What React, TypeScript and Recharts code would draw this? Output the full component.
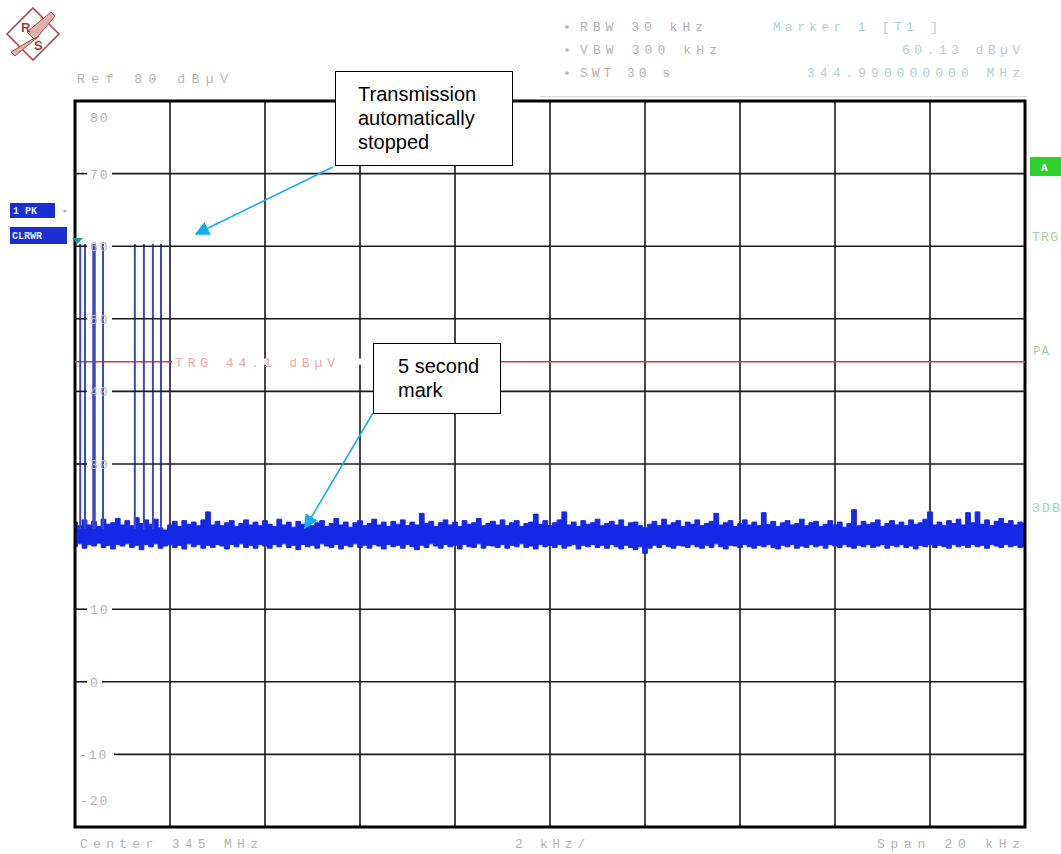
import {
  Area,
  CartesianGrid,
  ComposedChart,
  ReferenceArea,
  ReferenceLine,
  XAxis,
  YAxis,
} from "recharts";

// sweep: 201 samples, -10 kHz .. +10 kHz around 345 MHz
const FREQ_START = -10;
const FREQ_STEP = 0.1;

// noise floor read as peak (top) / min (bottom) envelope per sample, dBµV
const NOISE_HI = [
  22.0, 21.5, 22.3, 21.6, 22.1, 21.4, 22.4, 21.7, 21.9, 22.5,
  21.6, 22.2, 21.5, 22.6, 21.8, 22.3, 21.7, 22.4, 21.2, 20.9,
  21.6, 22.1, 21.4, 22.2, 21.7, 22.0, 21.5, 22.3, 23.4, 21.6,
  22.1, 21.5, 21.9, 22.2, 21.4, 21.8, 22.3, 21.6, 22.0, 21.5,
  22.2, 21.7, 21.4, 22.4, 21.6, 22.0, 21.3, 22.1, 21.7, 22.3,
  21.5, 21.9, 22.2, 21.4, 21.8, 22.5, 21.6, 22.0, 21.3, 21.9,
  22.2, 21.5, 21.8, 22.4, 21.6, 22.0, 21.4, 22.1, 21.7, 22.3,
  21.5, 22.0, 21.6, 23.2, 21.8, 22.1, 21.4, 21.9, 22.3, 21.6,
  22.0, 21.4, 22.2, 21.7, 21.9, 22.5, 21.5, 21.8, 22.1, 21.6,
  22.3, 21.5, 21.9, 22.2, 21.4, 21.8, 22.0, 23.1, 21.7, 22.2,
  21.5, 21.9, 22.3, 23.4, 21.6, 22.0, 21.4, 22.2, 21.7, 21.9,
  22.4, 21.5, 21.8, 22.1, 21.6, 22.3, 21.4, 21.9, 22.0, 21.5,
  21.2, 21.7, 22.1, 21.5, 22.4, 21.6, 21.9, 22.2, 21.4, 22.0,
  21.7, 22.3, 21.5, 21.8, 22.1, 23.2, 21.6, 21.9, 22.2, 21.4,
  21.8, 22.3, 21.6, 22.0, 21.5, 23.3, 21.7, 22.1, 21.4, 21.9,
  22.2, 21.6, 21.8, 22.4, 21.5, 21.9, 22.1, 21.4, 21.7, 22.2,
  21.6, 22.0, 21.3, 21.8, 23.7, 21.5, 22.1, 21.7, 21.9, 22.3,
  21.4, 21.8, 22.2, 21.6, 22.0, 21.5, 22.3, 21.7, 21.9, 22.4,
  23.4, 21.6, 22.0, 21.5, 22.2, 21.8, 22.4, 21.6, 23.3, 21.9,
  23.4, 21.7, 22.3, 21.5, 22.1, 22.5, 21.8, 22.2, 21.6, 22.0,
  21.8,
];

const NOISE_LO = [
  18.6, 19.0, 18.4, 18.9, 18.7, 19.1, 18.5, 18.8, 18.3, 18.9,
  18.7, 19.0, 18.5, 18.8, 18.2, 18.9, 18.6, 19.0, 18.4, 18.7,
  18.9, 18.5, 18.8, 18.3, 19.0, 18.6, 18.9, 18.4, 18.8, 18.5,
  18.9, 18.7, 18.3, 18.9, 18.6, 19.0, 18.5, 18.8, 18.4, 18.9,
  18.7, 18.4, 18.9, 18.6, 19.0, 18.5, 18.8, 18.2, 18.9, 18.6,
  18.8, 18.4, 19.0, 18.7, 18.5, 18.9, 18.3, 18.8, 18.6, 19.0,
  18.5, 18.8, 18.4, 18.9, 18.7, 18.3, 18.9, 18.6, 18.8, 18.4,
  18.9, 18.6, 18.2, 18.8, 18.5, 19.0, 18.7, 18.4, 18.9, 18.6,
  18.8, 18.3, 18.9, 18.6, 18.5, 19.0, 18.4, 18.8, 18.7, 18.5,
  18.9, 18.4, 18.8, 18.6, 19.0, 18.5, 18.7, 18.3, 18.9, 18.6,
  18.8, 18.5, 18.9, 18.4, 18.7, 18.9, 18.3, 18.8, 18.6, 18.9,
  18.5, 18.8, 18.4, 18.9, 18.6, 18.3, 18.8, 18.5, 18.2, 18.6,
  17.7, 18.4, 18.8, 18.5, 18.9, 18.6, 18.4, 18.8, 18.7, 18.5,
  18.9, 18.6, 18.4, 18.8, 18.5, 19.0, 18.6, 18.3, 18.8, 18.7,
  18.5, 18.9, 18.6, 18.4, 18.8, 18.6, 18.9, 18.5, 18.3, 18.8,
  18.6, 18.9, 18.4, 18.7, 18.5, 18.9, 18.6, 18.8, 18.4, 18.9,
  18.7, 18.5, 18.9, 18.6, 18.4, 18.8, 18.6, 18.9, 18.5, 18.7,
  18.9, 18.4, 18.8, 18.6, 18.9, 18.5, 18.7, 18.3, 18.8, 18.6,
  18.9, 18.5, 18.8, 18.6, 18.4, 18.9, 18.6, 18.8, 18.5, 18.9,
  18.6, 18.8, 18.4, 18.9, 18.7, 18.5, 18.9, 18.6, 18.8, 18.5,
  18.7,
];

// bursts before the transmission stopped (kHz offset, peak dBµV)
const SPIKE_FREQ = [-9.89, -9.79, -9.6, -9.41, -8.74, -8.55, -8.36, -8.19];
const SPIKE_TOP = [60.3, 60.3, 60.3, 60.3, 60.3, 60.3, 60.3, 60.3];
const SPIKE_BASE = 21;

const TRIGGER_LEVEL = 44.1;
const Y_TICKS = [80, 70, 60, 50, 40, 30, 20, 10, 0, -10, -20];
const X_TICKS = [-10, -8, -6, -4, -2, 0, 2, 4, 6, 8, 10];

const PLOT_LEFT = 75;
const PLOT_RIGHT = 1025;

const TRACE = "#1428e6";
const SPIKE = "#3b4bbd";
const GRID = "#1a1a1a";
const GREY = "#b4b4b4";
const MARKER_TXT = "#b3d0d0";
const GREEN_TXT = "#9fd49f";
const ARROW = "#19aee8";
const MONO = "'Liberation Mono', 'DejaVu Sans Mono', monospace";
const SANS = "'Liberation Sans', Arial, sans-serif";

const rows = NOISE_HI.map((hi, i) => ({
  f: Number((FREQ_START + i * FREQ_STEP).toFixed(2)),
  band: [NOISE_LO[i], hi],
}));

// y label sits on its own grid line, which is broken around the text
function YTick(props: { x?: number; y?: number; payload?: { value: number } }) {
  const y = Number(props.y);
  const v = props.payload?.value ?? 0;
  const label = String(v);
  const common = {
    fontFamily: MONO,
    fontSize: 13,
    fill: GREY,
    letterSpacing: 2,
  };
  if (v === 80) {
    return (
      <text x={90} y={y + 21} {...common}>
        {label}
      </text>
    );
  }
  if (v === -20) {
    return (
      <text x={80} y={y - 22} {...common}>
        {label}
      </text>
    );
  }
  // the 20 dBµV line is buried under the noise floor
  if (v === 20) return <g />;
  const neg = v < 0;
  const textX = neg ? 79 : 90;
  const lineFrom = neg ? 114 : label.length === 1 ? 102 : 112;
  return (
    <g>
      {!neg && (
        <line x1={PLOT_LEFT} x2={87} y1={y} y2={y} stroke={GRID} strokeWidth={1.6} />
      )}
      <line x1={lineFrom} x2={PLOT_RIGHT} y1={y} y2={y} stroke={GRID} strokeWidth={1.6} />
      <text x={textX} y={y + 5} {...common}>
        {label}
      </text>
    </g>
  );
}

function TrgLabel(props: { viewBox?: { x?: number; y?: number } }) {
  const x = Number(props.viewBox?.x ?? 0);
  const y = Number(props.viewBox?.y ?? 0);
  return (
    <g>
      <rect x={x + 97} y={y - 3} width={245} height={6} fill="#fff" />
      <text
        x={x + 100}
        y={y + 5}
        fontFamily={MONO}
        fontSize={13}
        fill="#f2a6a6"
        textLength={160}
        lengthAdjust="spacing"
      >
        TRG 44.1 dBµV
      </text>
    </g>
  );
}

function Mono({
  x,
  y,
  w,
  fill = GREY,
  children,
}: {
  x: number;
  y: number;
  w: number;
  fill?: string;
  children: string;
}) {
  return (
    <text
      x={x}
      y={y}
      fontFamily={MONO}
      fontSize={13}
      fill={fill}
      textLength={w}
      lengthAdjust="spacing"
    >
      {children}
    </text>
  );
}

function Overlay() {
  return (
    <svg
      width={1061}
      height={854}
      style={{ position: "absolute", left: 0, top: 0, pointerEvents: "none" }}
    >
      <defs>
        <marker
          id="head"
          viewBox="0 0 10 10"
          refX="9"
          refY="5"
          markerWidth="9"
          markerHeight="9"
          orient="auto-start-reverse"
        >
          <path d="M0,0 L10,5 L0,10 z" fill={ARROW} />
        </marker>
      </defs>

      {/* R&S logo */}
      <g transform="translate(33,34)">
        <polygon points="0,-26 26,0 0,26 -26,0" fill="none" stroke="#b04a4a" strokeWidth={1.6} />
        <polygon points="-6,-2 18,-22 22,-18 2,6" fill="#e2b0b0" stroke="#b04a4a" strokeWidth={1} />
        <polygon points="-2,6 -22,18 -18,22 6,2" fill="#e2b0b0" stroke="#b04a4a" strokeWidth={1} />
        <text x={-12} y={-2} fontFamily={SANS} fontSize={13} fill="#a33a3a" fontWeight={700}>
          R
        </text>
        <text x={1} y={16} fontFamily={SANS} fontSize={13} fill="#a33a3a" fontWeight={700}>
          S
        </text>
      </g>

      {/* header */}
      <Mono x={77} y={83} w={151}>Ref  80 dBµV</Mono>
      {[31, 54, 77].map((y) => (
        <circle key={y} cx={567} cy={y - 4} r={1.8} fill="#8fd08f" />
      ))}
      <Mono x={580} y={31} w={123}>RBW 30 kHz</Mono>
      <Mono x={580} y={54} w={137}>VBW 300 kHz</Mono>
      <Mono x={580} y={77} w={90}>SWT 30 s</Mono>
      <Mono x={773} y={31} w={165} fill={MARKER_TXT}>Marker 1 [T1 ]</Mono>
      <Mono x={902} y={54} w={118} fill={MARKER_TXT}>60.13 dBµV</Mono>
      <Mono x={807} y={77} w={213} fill={MARKER_TXT}>344.990000000 MHz</Mono>
      <line x1={540} x2={1027} y1={96.5} y2={96.5} stroke="#d6d6d6" strokeWidth={1} />

      {/* footer */}
      <Mono x={80} y={848} w={178}>Center 345 MHz</Mono>
      <Mono x={515} y={848} w={70}>2 kHz/</Mono>
      <Mono x={877} y={848} w={143}>Span 20 kHz</Mono>

      {/* trace info, left */}
      <rect x={10} y={203} width={45} height={15} fill="#1b2ecf" />
      <text x={13} y={214} fontFamily={MONO} fontSize={10} fontWeight={700} fill="#e6e8ff">
        1 PK
      </text>
      <circle cx={65} cy={211} r={1.6} fill="#86d486" />
      <rect x={10} y={227} width={57} height={17} fill="#1b2ecf" />
      <text x={12} y={239} fontFamily={MONO} fontSize={10} fontWeight={700} fill="#e6e8ff">
        CLRWR
      </text>
      <polygon points="72,238 83,238 77.5,244" fill="#1f9c8c" />

      {/* right side flags */}
      <rect x={1030} y={157} width={31} height={19} fill="#2fd12f" />
      <text x={1041} y={171} fontFamily={MONO} fontSize={11} fontWeight={700} fill="#fff">
        A
      </text>
      <Mono x={1032} y={241} w={26} fill={GREEN_TXT}>TRG</Mono>
      <Mono x={1033} y={355} w={16} fill={GREEN_TXT}>PA</Mono>
      <Mono x={1032} y={512} w={28} fill={GREEN_TXT}>3DB</Mono>

      {/* callouts */}
      <line x1={333} y1={167} x2={196} y2={234} stroke={ARROW} strokeWidth={1.6} markerEnd="url(#head)" />
      <line x1={373} y1={413} x2={305} y2={528} stroke={ARROW} strokeWidth={1.6} markerEnd="url(#head)" />
      <rect x={335.5} y={71.5} width={177} height={94} fill="#fff" stroke="#000" strokeWidth={1} />
      <text fontFamily={SANS} fontSize={20} fill="#000">
        <tspan x={358} y={101}>Transmission</tspan>
        <tspan x={358} y={125}>automatically</tspan>
        <tspan x={358} y={149}>stopped</tspan>
      </text>
      <rect x={373.5} y={343.5} width={127} height={70} fill="#fff" stroke="#000" strokeWidth={1} />
      <text fontFamily={SANS} fontSize={20} fill="#000">
        <tspan x={398} y={373}>5 second</tspan>
        <tspan x={398} y={397}>mark</tspan>
      </text>
    </svg>
  );
}

export default function App() {
  return (
    <div
      style={{
        position: "absolute",
        left: 0,
        top: 0,
        width: 1061,
        height: 854,
        background: "#fff",
        overflow: "hidden",
      }}
    >
      <ComposedChart
        width={1061}
        height={854}
        data={rows}
        margin={{ top: 101, right: 36, bottom: 27, left: 75 }}
      >
        <CartesianGrid stroke={GRID} strokeWidth={1.6} horizontal={false} />
        <XAxis
          dataKey="f"
          type="number"
          domain={[-10, 10]}
          ticks={X_TICKS}
          hide
        />
        <YAxis
          type="number"
          domain={[-20, 80]}
          ticks={Y_TICKS}
          mirror
          width={40}
          axisLine={false}
          tickLine={false}
          tick={YTick}
          interval={0}
        />
        <ReferenceLine
          y={TRIGGER_LEVEL}
          stroke="#d63c3c"
          strokeWidth={1.5}
          label={<TrgLabel />}
        />
        {SPIKE_FREQ.map((f, i) => (
          <ReferenceLine
            key={f}
            segment={[
              { x: f, y: SPIKE_BASE },
              { x: f, y: SPIKE_TOP[i] },
            ]}
            stroke={SPIKE}
            strokeWidth={i === 2 ? 3.5 : 2}
          />
        ))}
        <Area
          dataKey="band"
          type="step"
          stroke={TRACE}
          strokeWidth={1}
          fill={TRACE}
          fillOpacity={1}
          dot={false}
          activeDot={false}
          isAnimationActive={false}
        />
        <ReferenceArea
          x1={-10}
          x2={10}
          y1={-20}
          y2={80}
          fill="none"
          fillOpacity={0}
          stroke="#000"
          strokeWidth={3}
        />
      </ComposedChart>
      <Overlay />
    </div>
  );
}
